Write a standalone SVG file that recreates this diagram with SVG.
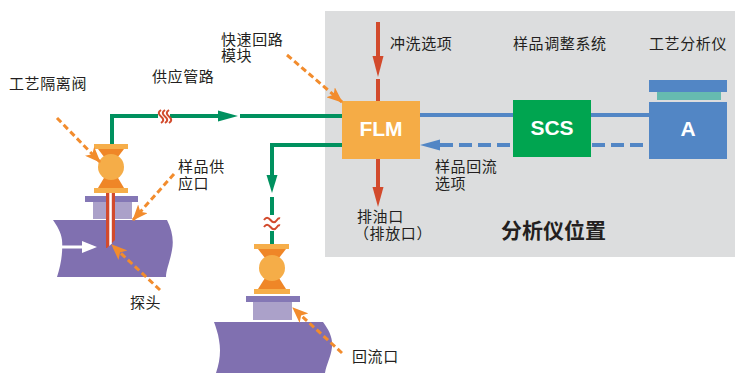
<svg xmlns="http://www.w3.org/2000/svg" width="735" height="373" viewBox="0 0 735 373">
  <defs>
    <style>
      .lbl { font-family: "Noto Sans CJK SC", "Noto Sans", sans-serif; font-size: 15px; fill: #231f20; letter-spacing: 0.6px; }
      .box { font-family: "Liberation Sans", "Noto Sans", sans-serif; font-size: 21px; font-weight: bold; fill: #ffffff; text-anchor: middle; }
      .big { font-family: "Noto Sans CJK SC", "Noto Sans", sans-serif; font-size: 21px; font-weight: bold; fill: #231f20; }
      .green { stroke: #00915f; stroke-width: 4; fill: none; }
      .red { stroke: #d24a2c; stroke-width: 4; fill: none; }
      .blue { stroke: #5286c5; stroke-width: 4; fill: none; }
      .squig { stroke: #d24a2c; stroke-width: 2; fill: none; }
      .call { stroke: #f28c2d; stroke-width: 3; stroke-dasharray: 6 3.5; fill: none; }
      .pipe { fill: #8070b0; }
      .flange { fill: #8477b5; }
      .block { fill: #aba1c9; }
      .vbar { fill: #f6ae4a; }
      .vbody { fill: #ef8627; }
      .vball { fill: #f5ad48; }
    </style>
    <marker id="orangeHead" markerWidth="16" markerHeight="13" refX="15" refY="6.5" orient="auto" markerUnits="userSpaceOnUse" viewBox="0 0 16 13">
      <path d="M0,0 L16,6.5 L0,13 L4,6.5 Z" fill="#f28c2d"/>
    </marker>
  </defs>

  <!-- analyser house background -->
  <rect id="analyser-house" x="325" y="11" width="410" height="246" fill="#dcddde"/>

  <!-- connectors -->
  <g id="connectors">
    <!-- fast-loop supply line -->
    <path class="green" d="M158,116 H112 V144"/>
    <line class="green" x1="170" y1="116" x2="220" y2="116"/>
    <polygon points="218,110.5 238,116 218,121.5" fill="#00915f"/>
    <line class="green" x1="240" y1="116" x2="342" y2="116"/>
    <g class="squig">
      <path d="M161,110 c-3,2 -3,4 0,6.5 c3,2.5 3,4.5 0,6.5"/>
      <path d="M165,110 c-3,2 -3,4 0,6.5 c3,2.5 3,4.5 0,6.5"/>
      <path d="M169,110 c-3,2 -3,4 0,6.5 c3,2.5 3,4.5 0,6.5"/>
    </g>

    <!-- fast-loop return line -->
    <path class="green" d="M342,145 H272 V177"/>
    <polygon points="266.5,175 277.5,175 272,193" fill="#00915f"/>
    <line class="green" x1="272" y1="197" x2="272" y2="215"/>
    <line class="green" x1="272" y1="231" x2="272" y2="245"/>
    <g class="squig">
      <path d="M264,220 c2,-3 4,-3 6.5,0 c2.5,3 4.5,3 6.5,0 c1,-1.5 2,-2 3,-1.5"/>
      <path d="M264,227 c2,-3 4,-3 6.5,0 c2.5,3 4.5,3 6.5,0 c1,-1.5 2,-2 3,-1.5"/>
    </g>

    <!-- flush option in, drain out -->
    <line class="red" x1="378" y1="22" x2="378" y2="58"/>
    <polygon points="372.5,56 383.5,56 378,77" fill="#d24a2c"/>
    <line class="red" x1="378" y1="79" x2="378" y2="101"/>
    <line class="red" x1="378" y1="159" x2="378" y2="189"/>
    <polygon points="372.5,187 383.5,187 378,207" fill="#d24a2c"/>

    <!-- sample path FLM -> SCS -> analyser -->
    <line class="blue" x1="420" y1="115" x2="649" y2="115"/>
    <!-- optional sample return -->
    <line class="blue" x1="440" y1="145" x2="649" y2="145" stroke-dasharray="13 6"/>
    <polygon points="440,139.5 420,145 440,150.5" fill="#5286c5"/>
  </g>

  <!-- process pipe with isolation valve and probe -->
  <g id="process-pipe">
    <path class="pipe" d="M53,220 H167 C172,230 174,240 172,250 C170,262 166,270 166,277 H57 C61,265 63,252 62,240 C61,232 57,226 53,220 Z"/>
    <polygon points="58,245.5 82,245.5 82,241 97,247 82,253 82,248.5 58,248.5" fill="#ffffff"/>
    <rect class="flange" x="85" y="196" width="53" height="6"/>
    <rect class="block" x="93" y="202" width="39" height="17"/>
    <polygon points="106,193 115,193 115,240 107,248 106,248" fill="#d24a2c"/>
    <polygon points="109.3,193 111.8,193 111.8,243.5 109.3,246" fill="#ffffff"/>
  </g>
  <g id="isolation-valve">
    <rect class="vbar" x="94" y="144" width="34" height="5"/>
    <polygon class="vbody" points="98,149 124,149 111,166"/>
    <polygon class="vbody" points="111,166 98,188 124,188"/>
    <circle class="vball" cx="111" cy="167" r="13"/>
    <rect class="vbar" x="94" y="188" width="34" height="5"/>
  </g>

  <!-- return pipe with valve -->
  <g id="return-pipe">
    <path class="pipe" d="M214,322 H323 C329,330 333,338 332,347 C331,357 326,365 325,373 H216 C220,362 221,350 219,340 C218,333 216,328 214,322 Z"/>
    <rect class="flange" x="246" y="296" width="54" height="6"/>
    <rect class="block" x="253" y="302" width="39" height="18"/>
  </g>
  <g id="return-valve">
    <rect class="vbar" x="254" y="244" width="35" height="5"/>
    <polygon class="vbody" points="258,249 286,249 272,267"/>
    <polygon class="vbody" points="272,267 258,289 286,289"/>
    <circle class="vball" cx="272" cy="268" r="13"/>
    <rect class="vbar" x="254" y="289" width="36" height="5"/>
  </g>

  <!-- analyser house equipment -->
  <g id="flm">
    <rect x="342" y="101" width="78" height="58" fill="#f5ac46"/>
    <text class="box" x="381" y="136">FLM</text>
  </g>
  <g id="scs">
    <rect x="513" y="100" width="78" height="57" fill="#00a550"/>
    <text class="box" x="552" y="135">SCS</text>
  </g>
  <g id="analyser">
    <rect x="649" y="80" width="78" height="12" fill="#5286c5"/>
    <rect x="657" y="92" width="64" height="8" fill="#66bbb0"/>
    <rect x="649" y="102" width="78" height="57" fill="#5286c5"/>
    <text class="box" x="688" y="136">A</text>
  </g>

  <!-- callout arrows, drawn over the equipment -->
  <g id="callouts">
    <line class="call" x1="57" y1="118" x2="100" y2="162" marker-end="url(#orangeHead)"/>
    <line class="call" x1="174" y1="174" x2="133" y2="220" marker-end="url(#orangeHead)"/>
    <line class="call" x1="160" y1="290" x2="112" y2="245" marker-end="url(#orangeHead)"/>
    <line class="call" x1="287" y1="55" x2="342" y2="102" marker-end="url(#orangeHead)"/>
    <line class="call" x1="342" y1="353" x2="293" y2="308" marker-end="url(#orangeHead)"/>
  </g>

  <!-- labels -->
  <g id="labels">
    <text class="lbl" x="9" y="89">工艺隔离阀</text>
    <text class="lbl" x="152" y="82">供应管路</text>
    <text class="lbl" x="221" y="45">快速回路<tspan x="221" dy="16">模块</tspan></text>
    <text class="lbl" x="178" y="172">样品供<tspan x="178" dy="17">应口</tspan></text>
    <text class="lbl" x="130" y="308">探头</text>
    <text class="lbl" x="352" y="362">回流口</text>
    <text class="lbl" x="390" y="49">冲洗选项</text>
    <text class="lbl" x="513" y="49">样品调整系统</text>
    <text class="lbl" x="649" y="49">工艺分析仪</text>
    <text class="lbl" x="435" y="172">样品回流<tspan x="435" dy="17">选项</tspan></text>
    <text class="lbl" x="357" y="222">排油口<tspan x="354" dy="17">（排放口）</tspan></text>
    <text class="big" x="501" y="238">分析仪位置</text>
  </g>
</svg>
